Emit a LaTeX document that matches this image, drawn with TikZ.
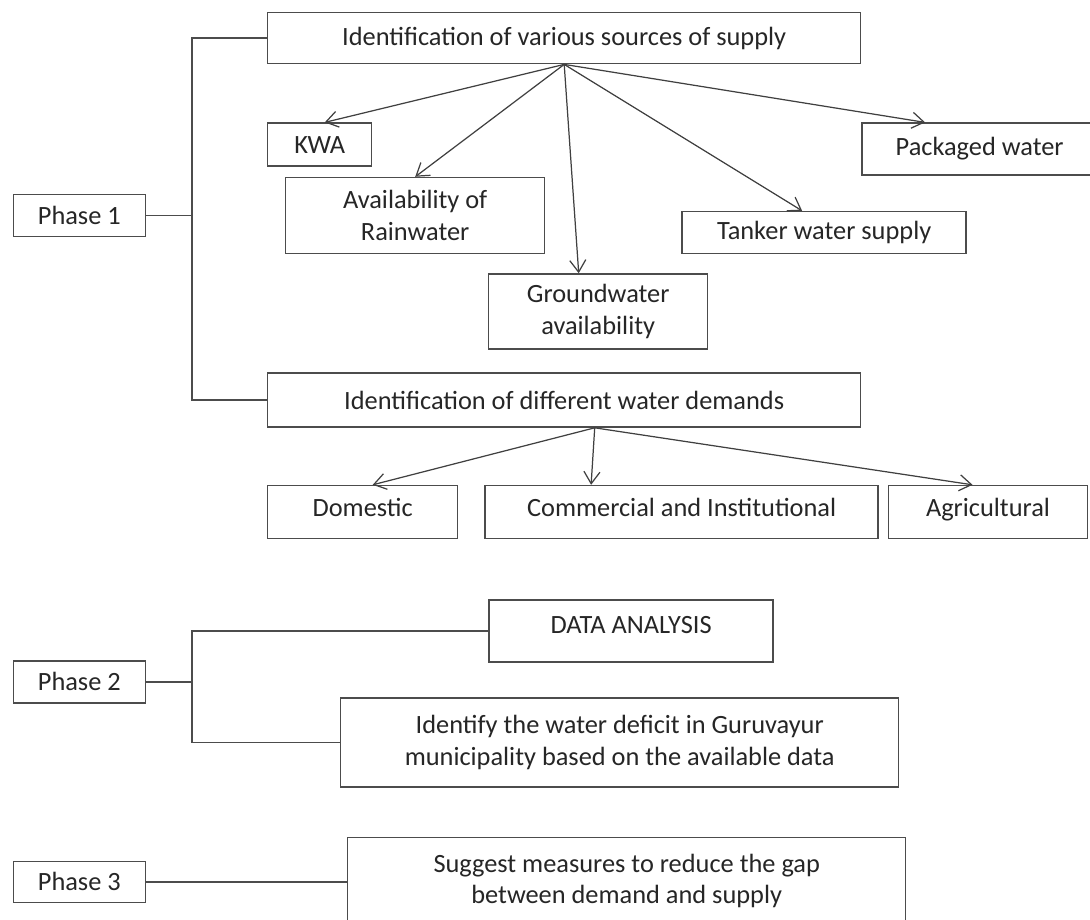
\documentclass[tikz,border=0pt]{standalone}
\usepackage{fontspec}
\setmainfont{Carlito}
\usepackage{tikz}
\usetikzlibrary{arrows.meta, positioning, calc}
\tikzset{
  box/.style={rectangle, draw=black!70, line width=0.8pt, fill=white, text=black!85, align=center, inner sep=2pt, font=\fontsize{15}{18}\selectfont},
  leaf/.style={box, minimum height=1.06cm, text height=1.6ex, text depth=0.5ex},
  phase/.style={box, minimum width=2.64cm, minimum height=0.84cm},
  arrow/.style={-{Straight Barb[length=2.4mm, width=3.2mm]}, draw=black!75, line width=0.7pt},
  link/.style={draw=black!70, line width=0.8pt},
}

\begin{document}
\begin{tikzpicture}[node distance=1cm and 1cm]
\useasboundingbox (0,0) rectangle (21.8,-18.4);
\node[box, minimum width=11.86cm, minimum height=1.02cm, anchor=north west] (src) at (5.34,-0.24) {Identification of various sources of supply};
\node[box, minimum width=2.08cm, minimum height=0.86cm, below right=1.16cm and 0cm of src.south west] (kwa) {KWA};
\node[box, minimum width=5.18cm, minimum height=1.52cm, below right=0.20cm and 0.36cm of kwa.south west] (rain) {Availability of\\Rainwater};
\node[box, minimum width=4.38cm, minimum height=1.50cm, below right=0.38cm and 4.06cm of rain.south west] (ground) {Groundwater\\availability};
\node[box, minimum width=5.68cm, minimum height=0.84cm, above right=0cm and 2.72cm of rain.south east] (tanker) {Tanker water supply};
\node[box, minimum width=4.70cm, minimum height=1.04cm, below right=1.16cm and 0cm of src.south east] (pack) {Packaged water};
\node[phase, left=2.78cm of rain] (p1) {Phase 1};
\node[box, minimum width=11.86cm, minimum height=1.08cm, below=6.16cm of src] (dem) {Identification of different water demands};
\node[leaf, minimum width=3.80cm, below right=1.14cm and 0cm of dem.south west] (dom) {Domestic};
\node[leaf, minimum width=7.86cm, right=0.52cm of dom] (com) {Commercial and Institutional};
\node[leaf, minimum width=3.98cm, right=0.18cm of com] (agr) {Agricultural};
\node[box, minimum width=5.68cm, minimum height=1.24cm, text height=1.6ex, text depth=1ex, below right=1.20cm and 0.08cm of com.south west] (data) {DATA ANALYSIS};
\node[phase, below=8.46cm of p1] (p2) {Phase 2};
\node[box, minimum width=11.16cm, minimum height=1.78cm, below right=0.74cm and 3.88cm of p2.north east] (def) {Identify the water deficit in Guruvayur\\municipality based on the available data};
\node[phase, minimum height=0.82cm, below=3.14cm of p2] (p3) {Phase 3};
\node[box, minimum width=11.16cm, minimum height=1.74cm, below right=0.98cm and 0.14cm of def.south west] (sug) {Suggest measures to reduce the gap\\between demand and supply};
\coordinate[right=0.92cm of p1.east] (j1);
\coordinate[right=0.92cm of p2.east] (j2);
\draw[link] (src.west) -| (j1) |- (dem.west);
\draw[link] (p1) -- (j1);
\draw[link] (data.west) -| (j2) |- (def.west);
\draw[link] (p2) -- (j2);
\draw[link] (p3) -- (p3 -| sug.west);
\draw[arrow] (src.south) -- ([xshift=0.1cm]kwa.north);
\draw[arrow] (src.south) -- (rain.north);
\draw[arrow] (src.south) -- ([xshift=-0.39cm]ground.north);
\draw[arrow] (src.south) -- ([xshift=-0.44cm]tanker.north);
\draw[arrow] (src.south) -- ([xshift=-1.09cm]pack.north);
\draw[arrow] ([xshift=0.61cm]dem.south) -- ([xshift=0.2cm]dom.north);
\draw[arrow] ([xshift=0.61cm]dem.south) -- ([xshift=-1.81cm]com.north);
\draw[arrow] ([xshift=0.61cm]dem.south) -- ([xshift=-0.31cm]agr.north);
\end{tikzpicture}
\end{document}
